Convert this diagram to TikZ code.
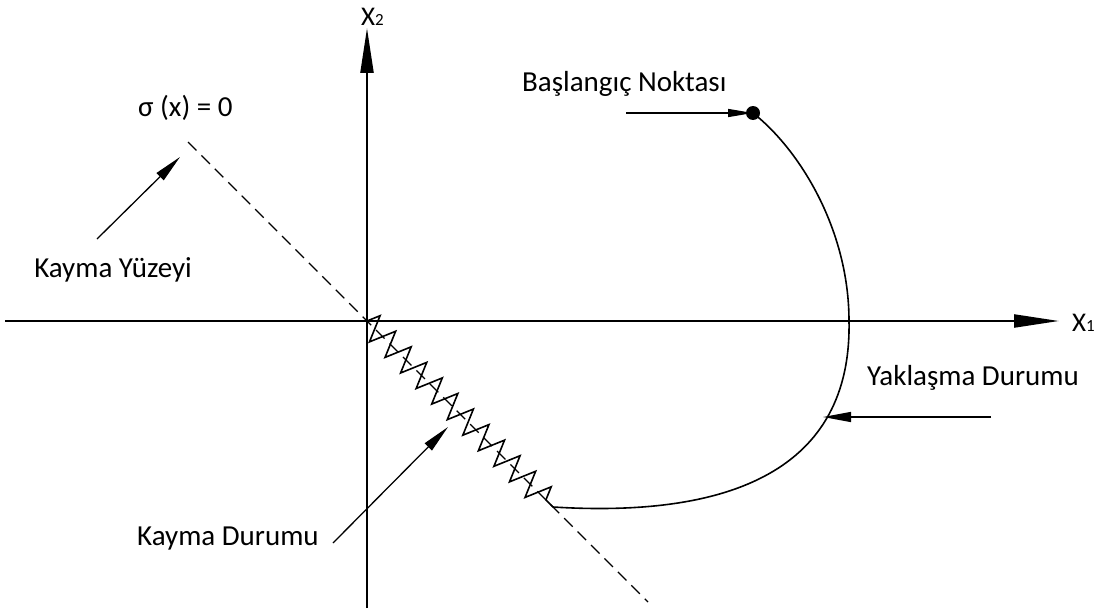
\documentclass[tikz,border=0pt]{standalone}
\usepackage{fontspec}
\setmainfont{Carlito}
\usetikzlibrary{arrows.meta,decorations.pathmorphing}
\begin{document}
\begin{tikzpicture}[x=1pt,y=-1pt,
  axis/.style={line width=2.2pt,-{Triangle[length=45pt,width=13pt]}},
  annot/.style={line width=1.3pt,-{Triangle[length=28pt,width=10pt]}},
  traj/.style={line width=1.6pt},
  surf/.style={line width=1.3pt,dash pattern=on 12pt off 7pt},
  lbl/.style={inner sep=0pt,font=\fontsize{29}{33}\selectfont},
  axlbl/.style={inner sep=0pt,font=\fontsize{27}{30}\selectfont}
]
\useasboundingbox (0,0) rectangle (1106,610);
% axes
\coordinate (O) at (367,321);
\coordinate (xl) at (5,321);
\coordinate (xr) at (1059,321);
\coordinate (yb) at (367,608);
\coordinate (yt) at (367,28);
\draw[axis] (xl) -- (xr);
\draw[axis] (yb) -- (yt);
\node[axlbl,anchor=base west] (x1) at (1072,331) {X{\fontsize{17}{17}\selectfont 1}};
\node[axlbl,anchor=base west] (x2) at (361,26) {X{\fontsize{17}{17}\selectfont 2}};
% sliding surface
\coordinate (sA) at (188,142);
\coordinate (sB) at (648,602);
\draw[surf] (sA) -- (sB);
\node[lbl,anchor=base west] (sig) at (138,117) {σ (x) = 0};
% sliding mode zigzag
\coordinate (zz) at (553,507);
\draw[traj,line join=miter,decorate,decoration={zigzag,segment length=22pt,amplitude=13pt}] (O) -- (zz);
% trajectory
\coordinate (start) at (753,113);
\coordinate (cross) at (849,321);
\draw[traj] (zz) .. controls (730,518) and (852,470) .. (cross)
            .. controls (849,230) and (800,150) .. (start);
\fill (start) circle (7pt);
% labels and arrows
\node[lbl,anchor=base west] (bas) at (522,92) {Başlangıç Noktası};
\coordinate (basT) at (626,113);
\draw[line width=1.3pt,-{Triangle[length=25pt,width=8pt]}] (basT) -- (start);

\node[lbl,anchor=base east] (ky) at (192,277) {Kayma Yüzeyi};
\coordinate (kyT) at (97,239);
\coordinate (kyH) at (180,157);
\draw[annot] (kyT) -- (kyH);

\node[lbl,anchor=base west] (kd) at (137,545) {Kayma Durumu};
\coordinate (kdT) at (333,543);
\coordinate (kdH) at (448,427);
\draw[annot] (kdT) -- (kdH);

\node[lbl,anchor=base west] (yd) at (867,385) {Yaklaşma Durumu};
\coordinate (ydT) at (991,417);
\coordinate (ydH) at (823,417);
\draw[annot] (ydT) -- (ydH);
\end{tikzpicture}
\end{document}
